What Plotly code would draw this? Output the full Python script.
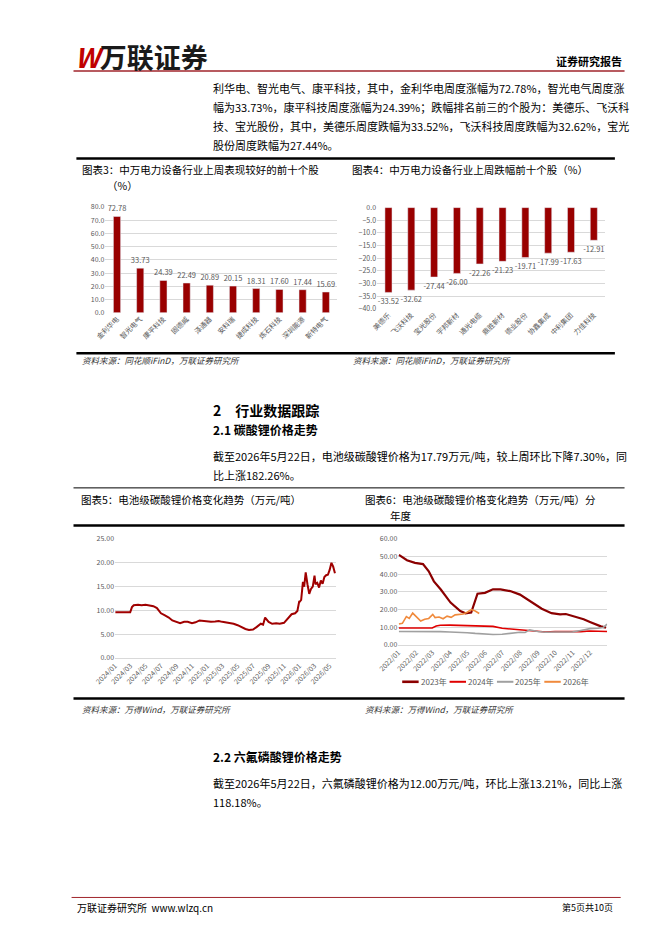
import plotly.graph_objects as go

W, H = 662, 936
FONT = "Noto Sans CJK SC"

# chart 3 / 4 data
up_names = ["金利华电", "智光电气", "康平科技", "固德威", "泽通器", "安科瑞",
            "捷成科技", "炼石科技", "深圳能源", "新特电气"]
up_vals = [72.78, 33.73, 24.39, 22.49, 20.89, 20.15, 18.31, 17.60, 17.44, 15.69]
down_names = ["美德乐", "飞沃科技", "宝光股份", "宇邦新材", "通光电缆", "鼎胜新材",
              "德业股份", "协鑫集成", "中利集团", "力佳科技"]
down_vals = [-33.52, -32.62, -27.44, -26.00, -22.26, -21.23, -19.71, -17.99, -17.63, -12.91]

# lithium carbonate price (万元/吨)
dates_2023 = ["2023-01-02", "2023-01-16", "2023-01-30", "2023-02-13", "2023-02-23", "2023-03-04",
              "2023-03-16", "2023-04-02", "2023-04-19", "2023-04-28", "2023-05-08", "2023-05-12",
              "2023-05-19", "2023-06-01", "2023-06-15", "2023-06-28", "2023-07-15", "2023-08-01",
              "2023-08-15", "2023-08-25", "2023-09-08", "2023-09-25", "2023-10-10", "2023-10-20",
              "2023-11-06", "2023-11-20", "2023-12-01", "2023-12-20", "2023-12-29"]
vals_2023 = [51.0, 48.0, 46.5, 45.8, 41.7, 36.0, 31.4, 24.0, 19.2, 17.9, 18.3, 22.0,
             29.0, 29.5, 31.5, 31.5, 30.5, 28.5, 25.5, 23.5, 20.5, 18.0, 17.3, 17.5,
             16.0, 14.5, 13.0, 10.5, 9.8]
dates_2024 = ["2024-01-02", "2024-01-15", "2024-02-01", "2024-02-15", "2024-03-01", "2024-03-08",
              "2024-03-15", "2024-04-01", "2024-04-15", "2024-05-01", "2024-05-15", "2024-06-01",
              "2024-06-15", "2024-07-01", "2024-07-15", "2024-08-01", "2024-08-15", "2024-09-01",
              "2024-09-15", "2024-10-01", "2024-10-15", "2024-11-01", "2024-11-15", "2024-12-01",
              "2024-12-15", "2024-12-31"]
vals_2024 = [9.6, 9.6, 9.7, 9.6, 9.6, 10.7, 11.1, 11.2, 11.1, 11.2, 11.1, 10.9,
             10.5, 9.4, 9.0, 8.5, 7.9, 7.5, 7.3, 7.6, 7.6, 7.3, 7.5, 7.9,
             7.8, 7.6]
dates_2025 = ["2025-01-02", "2025-01-15", "2025-02-01", "2025-02-15", "2025-03-01", "2025-03-15",
              "2025-04-01", "2025-04-15", "2025-05-01", "2025-05-15", "2025-06-01", "2025-06-15",
              "2025-07-01", "2025-07-15", "2025-08-01", "2025-08-10", "2025-08-18", "2025-09-01",
              "2025-09-15", "2025-10-01", "2025-10-15", "2025-11-01", "2025-11-15", "2025-12-01",
              "2025-12-15", "2025-12-24", "2025-12-31"]
vals_2025 = [7.6, 7.6, 7.7, 7.8, 7.6, 7.5, 7.3, 7.2, 6.9, 6.5, 6.1, 5.9,
             6.0, 6.5, 7.2, 7.0, 8.5, 7.6, 7.2, 7.3, 7.2, 7.4, 8.2, 9.2,
             9.4, 9.9, 11.8]
dates_2026 = ["2026-01-02", "2026-01-08", "2026-01-15", "2026-01-20", "2026-01-26", "2026-02-02",
              "2026-02-09", "2026-02-16", "2026-02-23", "2026-03-02", "2026-03-06", "2026-03-13",
              "2026-03-20", "2026-03-27", "2026-04-03", "2026-04-10", "2026-04-17", "2026-04-24",
              "2026-05-01", "2026-05-08", "2026-05-15", "2026-05-22"]
vals_2026 = [11.8, 12.2, 16.0, 15.0, 18.0, 15.5, 13.5, 14.5, 15.0, 17.3, 15.5, 15.8,
             14.8, 16.3, 15.6, 17.0, 17.4, 17.5, 18.5, 20.0, 19.2, 17.8]

year_series = [("2023年", dates_2023, vals_2023, "#8B0000", 2.2),
               ("2024年", dates_2024, vals_2024, "#E00000", 1.6),
               ("2025年", dates_2025, vals_2025, "#A0A0A0", 1.6),
               ("2026年", dates_2026, vals_2026, "#F08A3C", 1.6)]


def px_x(x):
    return x / W


def px_y(y):
    return 1 - y / H


fig = go.Figure()

bar_color = "#990000"
lblf = dict(size=7.5, color="#595959", family=FONT)
fig.add_trace(go.Bar(x=up_names, y=up_vals, marker_color=bar_color, text=up_vals,
                     texttemplate="%{y:.2f}", textposition="outside", cliponaxis=False,
                     constraintext="none", textfont=lblf, xaxis="x", yaxis="y"))
fig.add_trace(go.Bar(x=down_names, y=down_vals, marker_color=bar_color, text=down_vals,
                     texttemplate="%{y:.2f}", textposition="outside", cliponaxis=False,
                     constraintext="none", textfont=lblf, xaxis="x2", yaxis="y2"))

all_dates = dates_2024 + dates_2025 + dates_2026
all_vals = vals_2024 + vals_2025 + vals_2026
fig.add_trace(go.Scatter(x=all_dates, y=all_vals, mode="lines",
                         line=dict(color="#A00000", width=2), xaxis="x3", yaxis="y3"))

for name, d, v, c, w in year_series:
    fig.add_trace(go.Scatter(x=["2022" + s[4:] for s in d], y=v, mode="lines", name=name,
                             line=dict(color=c, width=w), xaxis="x4", yaxis="y4"))

grid = "#D9D9D9"
tickf = dict(size=7, color="#595959", family=FONT)

fig.update_layout(
    width=W, height=H, margin=dict(l=0, r=0, t=0, b=0),
    paper_bgcolor="white", plot_bgcolor="white",
    font=dict(family=FONT, color="#000000"),
    bargap=0.69, showlegend=False,
    xaxis=dict(domain=[px_x(78), px_x(318)], anchor="y", tickangle=-45, tickfont=tickf,
               showgrid=False, ticks=""),
    yaxis=dict(domain=[px_y(302), px_y(195)], anchor="x", range=[0, 80], dtick=10,
               tickformat=".1f", tickfont=tickf, gridcolor=grid, gridwidth=0.8,
               zeroline=False),
    xaxis2=dict(domain=[px_x(359), px_x(595)], anchor="y2", tickangle=-45, tickfont=tickf,
                showgrid=False, ticks=""),
    yaxis2=dict(domain=[px_y(298), px_y(195.7)], anchor="x2", range=[-40, 0], dtick=5,
                tickformat=".1f", tickfont=tickf, gridcolor=grid, gridwidth=0.8,
                zeroline=False),
    xaxis3=dict(domain=[px_x(88), px_x(317)], anchor="y3", type="date",
                range=["2024-01-01", "2026-05-28"], dtick="M2", tick0="2024-01-01",
                tickformat="%Y/%m", tickangle=-45, tickfont=tickf, showgrid=False,
                showline=True, linecolor=grid, ticks=""),
    yaxis3=dict(domain=[px_y(651), px_y(530.7)], anchor="x3", range=[0, 25], dtick=5,
                tickformat=".2f", tickfont=tickf, gridcolor=grid, gridwidth=0.8,
                zeroline=False),
    xaxis4=dict(domain=[px_x(381), px_x(597)], anchor="y4", type="date",
                range=["2022-01-01", "2022-12-31"], dtick="M1", tick0="2022-01-01",
                tickformat="%Y/%m", tickangle=-45, tickfont=tickf, showgrid=False,
                showline=True, linecolor=grid, ticks=""),
    yaxis4=dict(domain=[px_y(637.7), px_y(530.7)], anchor="x4", range=[0, 60], dtick=10,
                tickformat=".2f", tickfont=tickf, gridcolor=grid, gridwidth=0.8,
                zeroline=False),
)

annotations = []
shapes = []


def text(x, y, s, size=11, anchor="left", color="#000000", bold=False, italic=False):
    if bold:
        s = "<b>" + s + "</b>"
    if italic:
        s = "<i>" + s + "</i>"
    annotations.append(dict(x=px_x(x), y=px_y(y), xref="paper", yref="paper", text=s,
                            showarrow=False, xanchor=anchor, yanchor="middle",
                            font=dict(size=size, color=color, family=FONT)))


def hline(y, x0, x1, width, color):
    shapes.append(dict(type="line", xref="paper", yref="paper", x0=px_x(x0), x1=px_x(x1),
                       y0=px_y(y), y1=px_y(y), line=dict(color=color, width=width)))


# header
text(44, 43, "<span style='color:#C00000'><i>W</i></span><span style='color:#1a1a1a'>万联证券</span>",
     size=27, bold=True)
text(614, 48, "证券研究报告", size=11, anchor="right", bold=True)

body1 = ["利华电、智光电气、康平科技，其中，金利华电周度涨幅为72.78%，智光电气周度涨",
         "幅为33.73%，康平科技周度涨幅为24.39%；跌幅排名前三的个股为：美德乐、飞沃科",
         "技、宝光股份，其中，美德乐周度跌幅为33.52%，飞沃科技周度跌幅为32.62%，宝光",
         "股份周度跌幅为27.44%。"]
for i, line in enumerate(body1):
    text(187, 75 + 19 * i, line, size=11)

text(52, 157, "图表3：中万电力设备行业上周表现较好的前十个股", size=10.5)
text(78, 173, "（%）", size=10.5)
text(331, 157, "图表4：中万电力设备行业上周跌幅前十个股（%）", size=10.5)

text(52, 350, "资料来源：同花顺iFinD，万联证券研究所", size=8.5, color="#333333", italic=True)
text(332, 350, "资料来源：同花顺iFinD，万联证券研究所", size=8.5, color="#333333", italic=True)

text(187, 400, "2　行业数据跟踪", size=14, bold=True)
text(187, 420, "2.1 碳酸锂价格走势", size=12, bold=True)
text(187, 447, "截至2026年5月22日，电池级碳酸锂价格为17.79万元/吨，较上周环比下降7.30%，同", size=11)
text(187, 466, "比上涨182.26%。", size=11)

text(51, 491, "图表5：电池级碳酸锂价格变化趋势（万元/吨）", size=10.5)
text(344, 491, "图表6：电池级碳酸锂价格变化趋势（万元/吨）分", size=10.5)
text(370, 507, "年度", size=10.5)

# legend of chart 6
legend_x = [385, 434, 483, 532]
for (name, d, v, c, w), lx in zip(year_series, legend_x):
    shapes.append(dict(type="line", xref="paper", yref="paper", x0=px_x(lx), x1=px_x(lx + 17),
                       y0=px_y(675), y1=px_y(675), line=dict(color=c, width=w + 0.4)))
    text(lx + 17, 675, name, size=8, color="#595959")

text(52, 702, "资料来源：万得Wind，万联证券研究所", size=8.5, color="#333333", italic=True)
text(344, 702, "资料来源：万得Wind，万联证券研究所", size=8.5, color="#333333", italic=True)

text(187, 751, "2.2 六氟磷酸锂价格走势", size=12, bold=True)
text(187, 777, "截至2026年5月22日，六氟磷酸锂价格为12.00万元/吨，环比上涨13.21%，同比上涨", size=11)
text(187, 797, "118.18%。", size=11)

text(47, 903, "万联证券研究所  www.wlzq.cn", size=10)
text(605, 903, "第5页共10页", size=9, anchor="right")

hline(57.5, 45, 615, 1.5, "#A0252B")
hline(146, 48, 605, 2.5, "#000000")
hline(343, 48, 605, 2.5, "#000000")
hline(479, 45, 615, 1, "#000000")
hline(517, 45, 615, 2.5, "#000000")
hline(692, 45, 615, 2.5, "#000000")
hline(893, 43, 611, 1, "#A0252B")

fig.update_layout(annotations=annotations, shapes=shapes)

fig.write_html("out.html", config={"displayModeBar": False})
